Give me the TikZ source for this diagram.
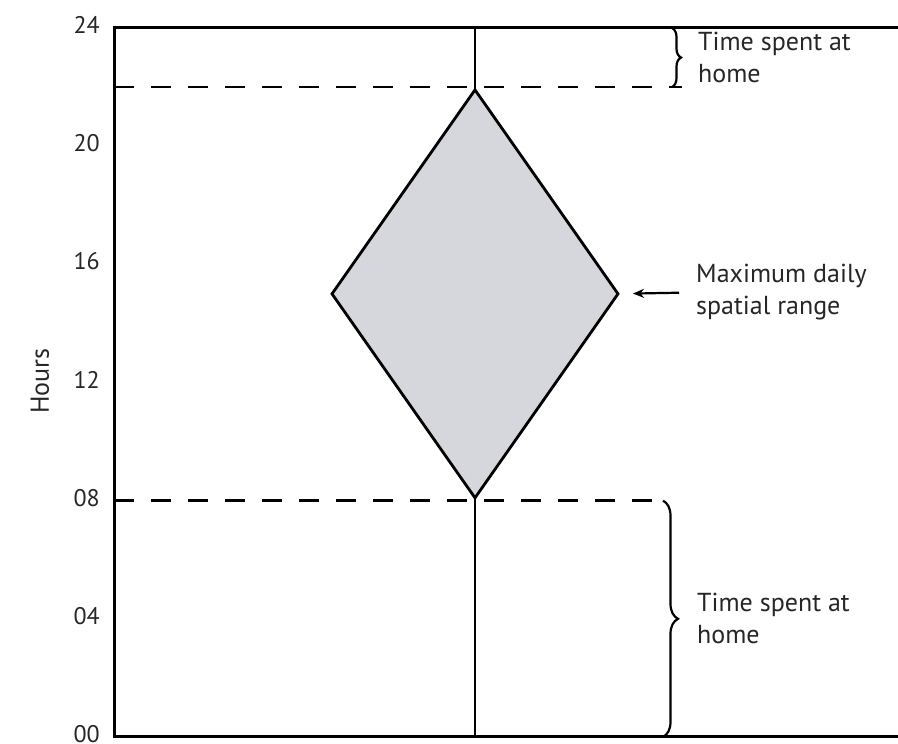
\documentclass[tikz,border=0pt]{standalone}
\usepackage{fontspec}
\setmainfont{PT Sans}
\usepackage{tikz}
\usetikzlibrary{shapes.geometric,arrows.meta,positioning,decorations.pathreplacing}
\definecolor{rangegray}{RGB}{214,215,221}
\tikzstyle{axisline} = [line width=3pt, line cap=rect]
\tikzset{
    every node/.style={font=\fontsize{26}{32}\selectfont, text=black!85}
}

\begin{document}
\begin{tikzpicture}[x=1pt,y=29.54pt]
            % Define block styles
            \tikzstyle{rangebox} = [diamond, draw, line width=2.8pt, fill=rangegray,
                minimum width=286pt, minimum height=408pt, inner sep=0pt, outer sep=0pt]
            \tikzstyle{homeline} = [line width=2.6pt, dash pattern=on 20pt off 17pt]
            \tikzstyle{note} = [align=left, anchor=west, inner sep=0pt]
            \tikzstyle{curly} = [line width=2.2pt, decorate]

            \useasboundingbox (0,-0.237) rectangle (898,24.948);

            % Axis and frame
            \coordinate (origin) at (114,0);
            \coordinate (top) at (114,24);
            \draw [axisline] (898,24) -- (top) -- (origin) -- (898,0);
            \foreach \h/\t in {0/00,4/04,8/08,12/12,16/16,20/20,24/24}
                \node [anchor=east, inner sep=0pt, font=\fontsize{24}{28}\selectfont]
                    (tick\t) at (100,\h+0.1) {\t};
            \node [rotate=90] (hours) at (40,12.05) {Hours};

            % Place nodes
            \node [rangebox] (prism) at (475,15) {};
            \coordinate (noon) at (475,24);
            \coordinate (dawn) at (475,0);
            \draw [line width=2.6pt] (noon) -- (prism.north);
            \draw [line width=2.6pt] (prism.south) -- (dawn);

            % Home time
            \draw [homeline] (114,22) -- (682,22);
            \draw [homeline] (114,8) -- (662,8);
            \draw [curly, decoration={brace,amplitude=9pt}] (672,24) -- (672,22)
                coordinate [midway, xshift=9pt] (tipup);
            \draw [curly, decoration={brace,amplitude=15pt}] (663,8) -- (663,0)
                coordinate [midway, xshift=15pt] (tipdown);
            \node [note, right=17pt of tipup] (homeup) {Time spent at\\home};
            \node [note, right=19pt of tipdown] (homedown) {Time spent at\\home};

            % Spatial range
            \node [note] (maxrange) at (696,15.05) {Maximum daily\\spatial range};
            \draw [-{Stealth[length=11pt,width=9pt]}, line width=2.2pt,
                shorten <=17pt, shorten >=15pt] (maxrange.west) -- (prism.east);
        \end{tikzpicture}
\end{document}
